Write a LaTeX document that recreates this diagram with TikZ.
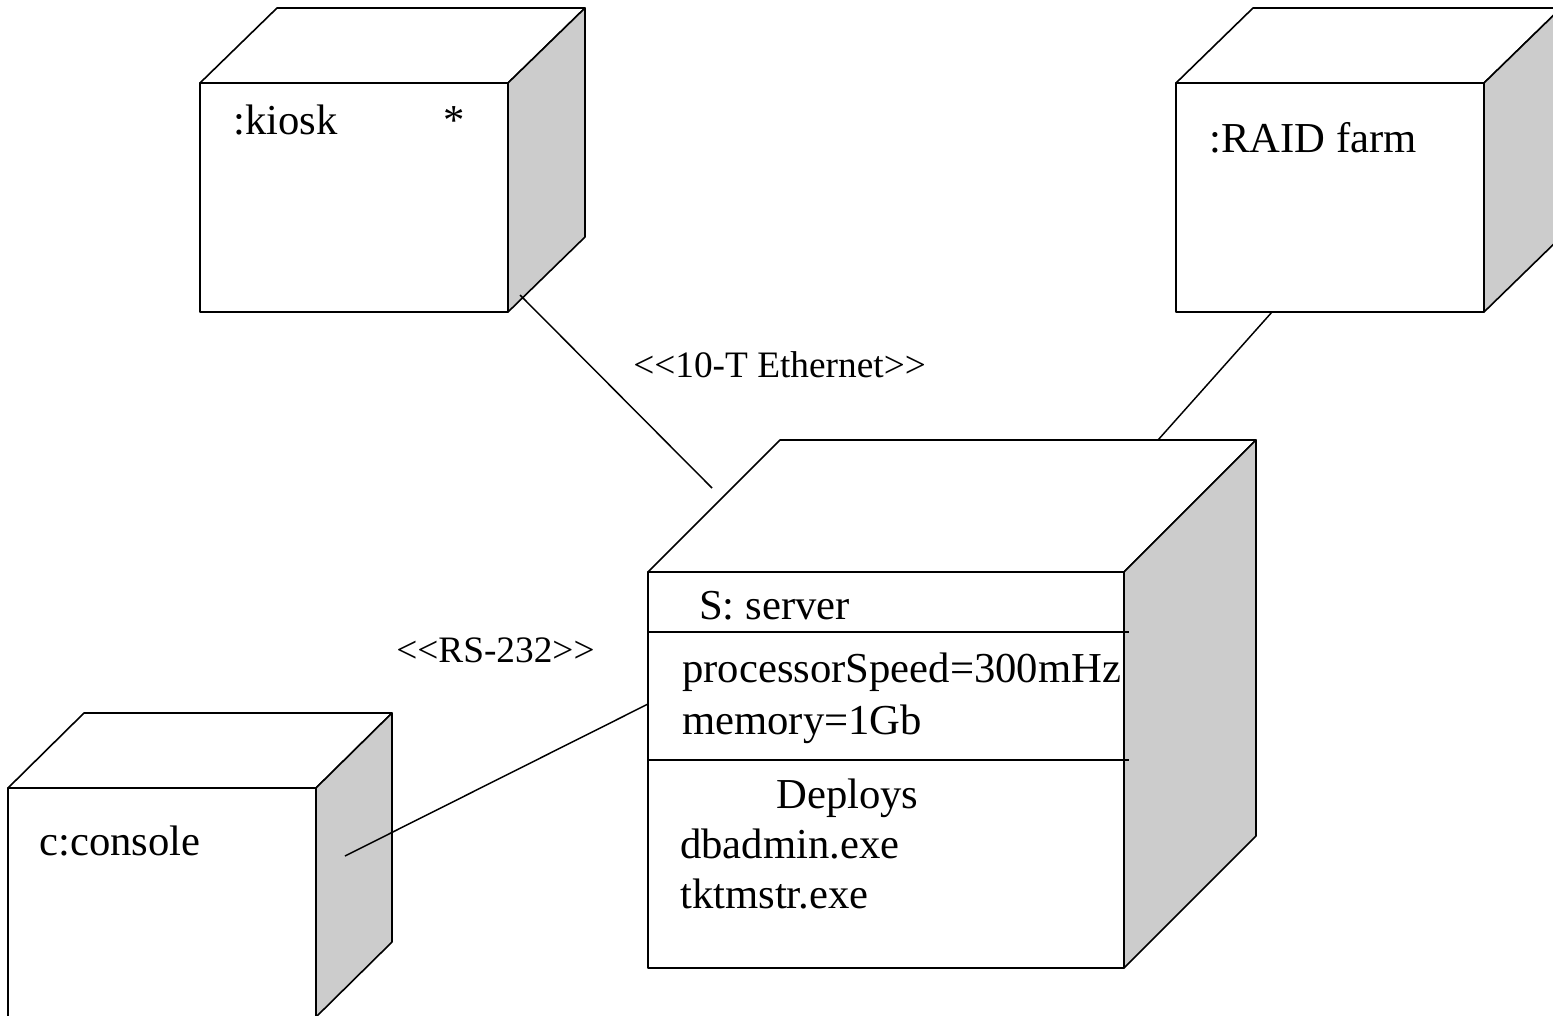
\documentclass[tikz,border=0pt]{standalone}
\usepackage{fontspec}
\setmainfont{Liberation Serif}
\usetikzlibrary{calc,fit}
\definecolor{sidegray}{RGB}{204,204,204}

% A UML deployment node: front face as a named node, with top and side faces
% #1 name, (#2,#3) front top-left, (#4,#5) front bottom-right, (#6,#7) depth
\newcommand\devicebox[7]{%
  \coordinate (#1-a) at (#2,#3);
  \coordinate (#1-b) at (#4,#5);
  \node[frontface, fit=(#1-a)(#1-b)] (#1) {};
  \draw[face, fill=white] (#1.north west) -- ([shift={(#6,-#7)}]#1.north west)
    -- ([shift={(#6,-#7)}]#1.north east) -- (#1.north east) -- cycle;
  \draw[face, fill=sidegray] (#1.north east) -- ([shift={(#6,-#7)}]#1.north east)
    -- ([shift={(#6,-#7)}]#1.south east) -- (#1.south east) -- cycle;
}

\begin{document}
\begin{tikzpicture}[x=0.75pt, y=-0.75pt,
  face/.style={draw=black, line width=1.2pt, line join=round},
  frontface/.style={face, fill=white, inner sep=0pt, outer sep=0pt},
  wire/.style={draw=black, line width=1.1pt},
  nodetext/.style={anchor=base west, inner sep=0pt, font=\fontsize{32pt}{36pt}\selectfont},
  linklabel/.style={anchor=base west, inner sep=0pt, font=\fontsize{28pt}{32pt}\selectfont}]
\useasboundingbox (0,0) rectangle (1553,1015);
\clip (0,0) rectangle (1553,1015);

% devices
\devicebox{kiosk}{200}{83}{508}{312}{77}{75}
\devicebox{raid}{1176}{83}{1484}{312}{77}{75}
\devicebox{console}{8}{788}{316}{1017}{76}{75}
\devicebox{server}{648}{572}{1124}{968}{132}{132}

% server compartments
\coordinate (sepAl) at (648,632);
\coordinate (sepAr) at (1129,632);
\coordinate (sepBl) at (648,760);
\coordinate (sepBr) at (1129,760);
\draw[face] (sepAl) -- (sepAr);
\draw[face] (sepBl) -- (sepBr);

% device labels
\node[nodetext] (kiosklbl) at (233,134) {:kiosk};
\node[nodetext] (kioskmult) at (443,134) {*};
\node[nodetext] (raidlbl) at (1209,152) {:RAID farm};
\node[nodetext] (consolelbl) at (39,855) {c:console};
\node[nodetext] (serverlbl) at (699,619) {S: server};
\node[nodetext] (cpu) at (682,682) {processorSpeed=300mHz};
\node[nodetext] (mem) at (682,734) {memory=1Gb};
\node[nodetext] (deploys) at (776,808) {Deploys};
\node[nodetext] (dbadmin) at (680,858) {dbadmin.exe};
\node[nodetext] (tktmstr) at (680,908) {tktmstr.exe};

% connections
\coordinate (kioskport) at (520,295);
\coordinate (etherend) at (712,488);
\coordinate (raidport) at (1272,312);
\coordinate (raidend) at (1158,440);
\coordinate (consoleport) at (345,856);
\coordinate (serialend) at (648,704);
\draw[wire] (kioskport) -- (etherend);
\draw[wire] (raidport) -- (raidend);
\draw[wire] (consoleport) -- (serialend);

% link stereotypes
\node[linklabel] (ethlbl) at (633,377) {<{}<10-T Ethernet>{}>};
\node[linklabel] (rslbl) at (396,662) {<{}<RS-232>{}>};
\end{tikzpicture}
\end{document}
